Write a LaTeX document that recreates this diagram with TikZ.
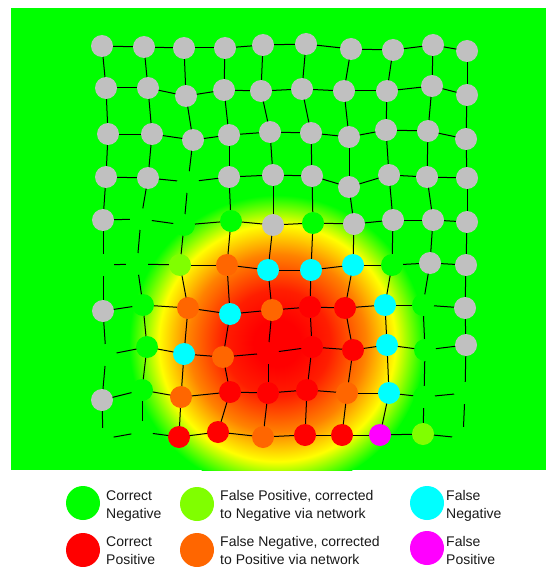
\documentclass[tikz,border=0pt]{standalone}
\usepackage{fontspec}
\setmainfont{Liberation Sans}
\definecolor{cgray}{RGB}{192,192,192}
\definecolor{cgreen}{RGB}{0,255,0}
\definecolor{clime}{RGB}{128,255,0}
\definecolor{corange}{RGB}{255,102,0}
\definecolor{cred}{RGB}{255,0,0}
\definecolor{ccyan}{RGB}{0,255,255}
\definecolor{cmag}{RGB}{255,0,255}
\definecolor{hotred}{RGB}{255,30,0}
\definecolor{hotorange}{RGB}{255,130,0}
\definecolor{hotyellow}{RGB}{255,255,0}
\pgfdeclareradialshading{heat}{\pgfpointorigin}{color(0bp)=(cred); color(4bp)=(cred); color(9bp)=(hotred); color(15bp)=(hotorange); color(20bp)=(hotyellow); color(25bp)=(cgreen); color(50bp)=(cgreen)}
\pgfdeclarelayer{back}
\pgfdeclarelayer{edges}
\pgfsetlayers{back,edges,main}
\tikzset{
  dot/.style={circle, inner sep=0pt, minimum size=22, draw=none},
  lgdot/.style={circle, inner sep=0pt, minimum size=34, draw=none},
  lgtext/.style={anchor=west, align=left, inner sep=0pt, text=black!90,
    font=\fontsize{14}{18}\selectfont},
  edge/.style={black, line width=1pt}
}
\begin{document}
\begin{tikzpicture}[x=1pt,y=-1pt]
\useasboundingbox (0,0) rectangle (548,567);
\begin{pgfonlayer}{back}
  \fill[white] (0,0) rectangle (548,567);
  \fill[cgreen] (11,8) rectangle (546,470);
  \begin{scope}
    \clip (11,8) rectangle (546,470);
    \shade[shading=heat] (277,343) circle[radius=148];
  \end{scope}
\end{pgfonlayer}
\foreach \row [count=\r from 0] in {
 {102/46/gray,144/47/gray,184/48/gray,225/48/gray,263/45/gray,306/44/gray,351/49/gray,393/50/gray,433/45/gray,467/51/gray},
 {106/88/gray,148/88/gray,186/96/gray,224/90/gray,261/91/gray,302/89/gray,344/91/gray,387/91/gray,432/86/gray,467/95/gray},
 {108/134/gray,152/134/gray,193/140/gray,229/135/gray,270/132/gray,311/133/gray,349/137/gray,386/130/gray,428/131/gray,466/139/gray},
 {106/177/gray,148/178/gray,188/182/green,229/177/gray,273/175/gray,312/176/gray,349/187/gray,389/175/gray,427/177/gray,467/178/gray},
 {103/220/gray,141/219/green,184/225/green,231/221/green,273/225/gray,313/223/green,354/224/gray,393/220/gray,433/220/gray,467/222/gray},
 {103/265/green,137/264/green,180/265/lime,227/265/orange,268/270/cyan,311/270/cyan,353/265/cyan,392/265/green,430/263/gray,466/265/gray},
 {103/311/gray,143/305/green,188/308/orange,230/314/cyan,272/310/orange,310/307/red,345/308/red,385/305/cyan,423/305/green,465/308/gray},
 {106/355/green,147/347/green,184/354/cyan,223/357/orange,268/353/red,312/347/red,353/350/red,387/345/cyan,425/350/green,466/345/gray},
 {102/400/gray,142/390/green,181/397/orange,230/392/red,268/393/red,307/390/red,347/393/orange,389/393/cyan,424/397/green,465/393/green},
 {103/439/green,142/432/green,179/437/red,218/432/red,263/437/orange,305/435/red,342/435/red,380/435/mag,423/434/lime,463/438/green}}
{
  \foreach \x/\y/\col [count=\c from 0] in \row {
    \node[dot, fill=c\col] (n-\r-\c) at (\x,\y) {};
  }
}
\begin{pgfonlayer}{edges}
\foreach \r in {0,...,9} {
  \foreach \c [evaluate=\c as \cn using int(\c+1)] in {0,...,8} {
    \draw[edge] (n-\r-\c.center) -- (n-\r-\cn.center);
    \draw[edge] (n-\c-\r.center) -- (n-\cn-\r.center);
  }
}
\end{pgfonlayer}
% legend
\node[lgdot, fill=cgreen] (l1) at (83,503) {};
\node[lgtext] (t1) at (106,506) {Correct\\Negative};
\node[lgdot, fill=clime] (l2) at (197,504) {};
\node[lgtext] (t2) at (220,506) {False Positive, corrected\\to Negative via network};
\node[lgdot, fill=ccyan] (l3) at (427,503) {};
\node[lgtext] (t3) at (446,506) {False\\Negative};
\node[lgdot, fill=cred] (l4) at (83,550) {};
\node[lgtext] (t4) at (106,550.5) {Correct\\Positive};
\node[lgdot, fill=corange] (l5) at (197,550) {};
\node[lgtext] (t5) at (220,550.5) {False Negative, corrected\\to Positive via network};
\node[lgdot, fill=cmag] (l6) at (427,548) {};
\node[lgtext] (t6) at (446,550.5) {False\\Positive};
\end{tikzpicture}
\end{document}
